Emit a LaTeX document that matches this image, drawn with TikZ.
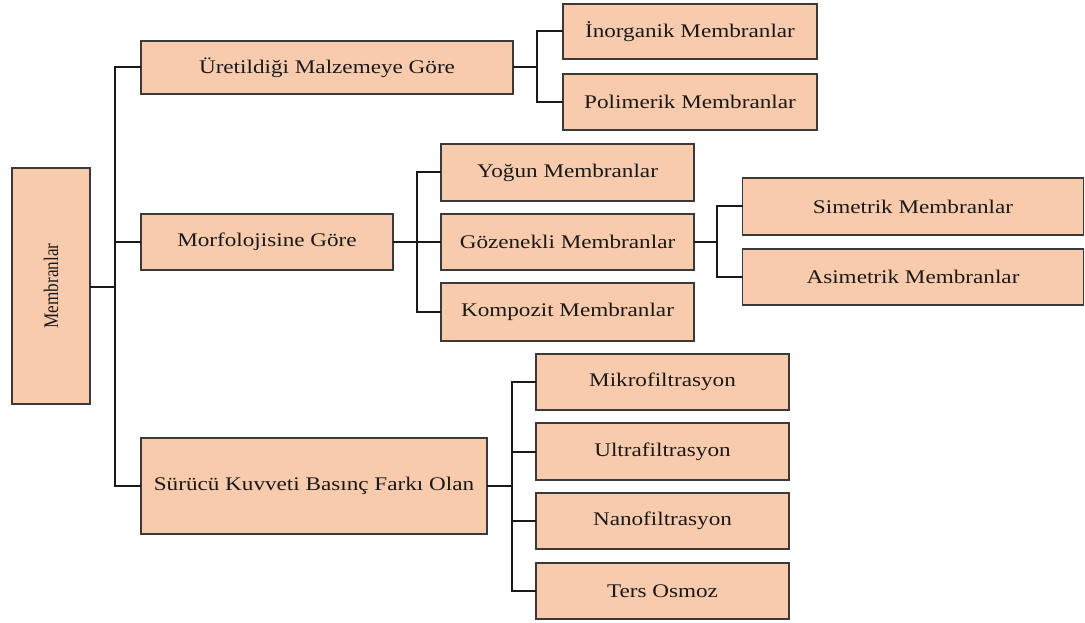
\documentclass[tikz,border=0pt]{standalone}
\usepackage{fontspec}
\usepackage{graphicx}
\setmainfont{Liberation Serif}
\definecolor{peach}{HTML}{F8CBAD}
\definecolor{edgegray}{HTML}{3A3A3A}
\newcommand\hstretch[1]{\scalebox{1.2}[1]{#1}}
\begin{document}
\begin{tikzpicture}[x=1pt,y=-1pt,
  box/.style={draw=edgegray, line width=1.5pt, fill=peach, inner sep=0pt, outer sep=0pt,
    font=\fontsize{19.3}{22}\selectfont, text=black!90},
  link/.style={draw=black!90, line width=2pt}]
\useasboundingbox (0,0) rectangle (1085,623);
% nodes
\node[box, minimum width=78, minimum height=236, font=\fontsize{17.2}{20}\selectfont] (root) at (51,286) {\hstretch{\rotatebox{90}{Membranlar}}};
\node[box, minimum width=372, minimum height=53] (A) at (327,67.5) {\hstretch{Üretildiği Malzemeye Göre}};
\node[box, minimum width=252, minimum height=56] (B) at (267,242) {\hstretch{Morfolojisine Göre}};
\node[box, minimum width=346, minimum height=96] (C) at (314,486) {\hstretch{Sürücü Kuvveti Basınç Farkı Olan}};
\node[box, minimum width=254, minimum height=55] (A1) at (690,31.5) {\hstretch{İnorganik Membranlar}};
\node[box, minimum width=254, minimum height=56] (A2) at (690,102) {\hstretch{Polimerik Membranlar}};
\node[box, minimum width=253, minimum height=57] (B1) at (567.5,172.5) {\hstretch{Yoğun Membranlar}};
\node[box, minimum width=253, minimum height=56] (B2) at (567.5,242) {\hstretch{Gözenekli Membranlar}};
\node[box, minimum width=253, minimum height=58] (B3) at (567.5,312) {\hstretch{Kompozit Membranlar}};
\node[box, minimum width=341, minimum height=57] (B21) at (913,206.5) {\hstretch{Simetrik Membranlar}};
\node[box, minimum width=341, minimum height=56] (B22) at (913,277) {\hstretch{Asimetrik Membranlar}};
\node[box, minimum width=253, minimum height=56] (C1) at (662.5,382) {\hstretch{Mikrofiltrasyon}};
\node[box, minimum width=253, minimum height=57] (C2) at (662.5,451.5) {\hstretch{Ultrafiltrasyon}};
\node[box, minimum width=253, minimum height=56] (C3) at (662.5,521) {\hstretch{Nanofiltrasyon}};
\node[box, minimum width=253, minimum height=56] (C4) at (662.5,591) {\hstretch{Ters Osmoz}};
% connectors
\coordinate (t) at ([xshift=25pt,yshift=-1pt]root.east);
\draw[link] ([yshift=-1pt]root.east) -- (t);
\draw[link] (A.west) -| (t);
\draw[link] (B.west) -| (t);
\draw[link] (C.west) -| (t);
\coordinate (a) at ([xshift=24pt]A.east);
\draw[link] (A.east) -- (a);
\draw[link] (A1.west) -| (a);
\draw[link] (A2.west) -| (a);
\coordinate (b) at ([xshift=24pt]B.east);
\draw[link] (B.east) -- (b);
\draw[link] (B1.west) -| (b);
\draw[link] (B2.west) -| (b);
\draw[link] (B3.west) -| (b);
\coordinate (g) at ([xshift=23pt]B2.east);
\draw[link] (B2.east) -- (g);
\draw[link] (B21.west) -| (g);
\draw[link] (B22.west) -| (g);
\coordinate (c) at ([xshift=25pt]C.east);
\draw[link] (C.east) -- (c);
\draw[link] (C1.west) -| (c);
\draw[link] (C2.west) -| (c);
\draw[link] (C3.west) -| (c);
\draw[link] (C4.west) -| (c);
\end{tikzpicture}
\end{document}
